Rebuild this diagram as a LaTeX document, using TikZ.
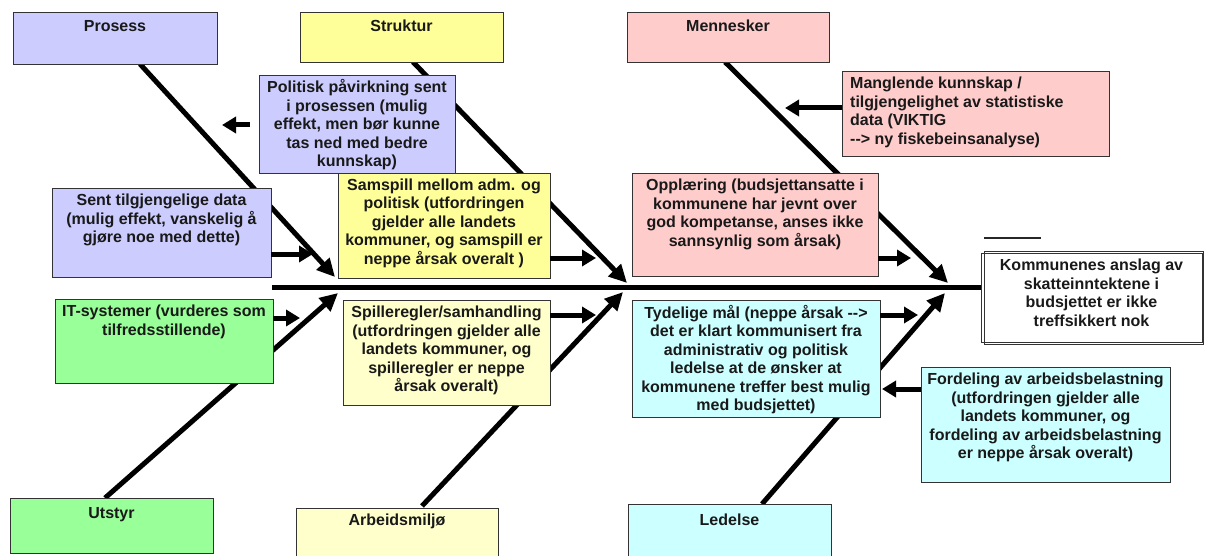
\documentclass[tikz,border=0pt]{standalone}
\usepackage{fontspec}
\setmainfont{Liberation Sans}
\usetikzlibrary{arrows.meta}
\definecolor{lav}{HTML}{CCCCFF}
\definecolor{yel}{HTML}{FFFF99}
\definecolor{pnk}{HTML}{FFCCCC}
\definecolor{grn}{HTML}{99FF99}
\definecolor{lyel}{HTML}{FFFFCC}
\definecolor{cyn}{HTML}{CCFFFF}
\newcommand\fl{\rule{0pt}{13pt}}
\begin{document}
\begin{tikzpicture}[x=1pt,y=-1pt,
  box/.style={draw=black!80, line width=0.9pt, anchor=north west, inner sep=0pt, outer sep=0pt},
  txt/.style={font=\fontsize{16}{18.5}\selectfont\bfseries, text=black!90, align=center, inner sep=0pt, anchor=north},
  bone/.style={line width=5pt, -{Triangle[length=18pt,width=17pt]}},
  spine/.style={line width=5pt},
  sarr/.style={line width=5pt, -{Triangle[length=14pt,width=16pt]}}]
\useasboundingbox (0,0) rectangle (1206,556);

% coordinates for bones
\coordinate (sP) at (140,64);  \coordinate (tP) at (335,277);
\coordinate (sS) at (413,62);  \coordinate (tS) at (627,283);
\coordinate (sM) at (725,62);  \coordinate (tM) at (948,283);
\coordinate (sU) at (105,498); \coordinate (tU) at (338,293);
\coordinate (sA) at (422,506); \coordinate (tA) at (623,292);
\coordinate (sL) at (762,504); \coordinate (tL) at (945,293);
\coordinate (spL) at (272,287); \coordinate (spR) at (982,287);

\draw[spine] (spL) -- (spR);
\draw[bone] (sP) -- (tP);
\draw[bone] (sS) -- (tS);
\draw[bone] (sM) -- (tM);
\draw[bone] (sU) -- (tU);
\draw[bone] (sA) -- (tA);
\draw[bone] (sL) -- (tL);

% category boxes
\node[box, fill=lav, minimum width=204pt, minimum height=52pt] (pros) at (13,12) {};
\node[box, fill=yel, minimum width=203pt, minimum height=50pt] (strk) at (300,12) {};
\node[box, fill=pnk, minimum width=202pt, minimum height=50pt] (menn) at (627,12) {};
\node[box, fill=grn, minimum width=203pt, minimum height=55pt] (utst) at (10,498) {};
\node[box, fill=lyel, minimum width=202pt, minimum height=52pt] (arbm) at (296,508) {};
\node[box, fill=cyn, minimum width=203pt, minimum height=56pt] (ledl) at (628,504) {};

\node[txt] (prosT) at ([yshift=-6pt]pros.north) {\fl Prosess};
\node[txt] (strkT) at ([yshift=-6pt]strk.north) {\fl Struktur};
\node[txt] (mennT) at ([yshift=-6pt]menn.north) {\fl Mennesker};
\node[txt] (utstT) at ([yshift=-7pt]utst.north) {\fl Utstyr};
\node[txt] (arbmT) at ([yshift=-4pt]arbm.north) {\fl Arbeidsmiljø};
\node[txt] (ledlT) at ([yshift=-8pt]ledl.north) {\fl Ledelse};

% cause boxes
\node[box, fill=lav, minimum width=196pt, minimum height=98pt] (poli) at (259,75) {};
\node[box, fill=pnk, minimum width=267pt, minimum height=85pt] (mang) at (842,71) {};
\node[box, fill=lav, minimum width=219pt, minimum height=89pt] (sent) at (52,188) {};
\node[box, fill=yel, minimum width=212pt, minimum height=105pt] (sams) at (338,173) {};
\node[box, fill=pnk, minimum width=246pt, minimum height=103pt] (oppl) at (632,173) {};
\node[box, fill=grn, minimum width=218pt, minimum height=84pt] (itsy) at (55,299) {};
\node[box, fill=lyel, minimum width=207pt, minimum height=105pt] (spil) at (343,300) {};
\node[box, fill=cyn, minimum width=248pt, minimum height=117pt] (tyde) at (632,300) {};
\node[box, fill=cyn, minimum width=249pt, minimum height=115pt] (ford) at (921,367) {};
% effect box: two slightly offset outlines
\fill[white] (981,251) rectangle (1205,344);
\node[box, minimum width=219pt, minimum height=93pt] (komm2) at (984,251) {};
\node[box, minimum width=221pt, minimum height=89pt] (komm) at (981,253) {};

\node[txt] (poliT) at ([yshift=-4.5pt]poli.north) {\fl Politisk påvirkning sent\\ i prosessen (mulig\\ effekt, men bør kunne\\ tas ned med bedre\\ kunnskap)};
\node[txt, anchor=north west, align=left] (mangT) at ([xshift=8pt,yshift=-4.5pt]mang.north west) {\fl Manglende kunnskap /\\ tilgjengelighet av statistiske\\ data (VIKTIG\\ -{}->~ny fiskebeinsanalyse)};
\node[txt] (sentT) at ([yshift=-4.5pt]sent.north) {\fl Sent tilgjengelige data\\ (mulig effekt, vanskelig å\\ gjøre noe med dette)};
\node[txt] (samsT) at ([yshift=-4pt]sams.north) {\fl Samspill mellom adm. og\\ politisk (utfordringen\\ gjelder alle landets\\ kommuner, og samspill er\\ neppe årsak overalt )};
\node[txt] (opplT) at ([yshift=-4.5pt]oppl.north) {\fl Opplæring (budsjettansatte i\\ kommunene har jevnt over\\ god kompetanse, anses ikke\\ sannsynlig som årsak)};
\node[txt] (itsyT) at ([yshift=-4.5pt]itsy.north) {\fl IT-systemer (vurderes som\\ tilfredsstillende)};
\node[txt] (spilT) at ([yshift=-4.5pt]spil.north) {\fl Spilleregler/samhandling\\ (utfordringen gjelder alle\\ landets kommuner, og\\ spilleregler er neppe\\ årsak overalt)};
\node[txt] (tydeT) at ([yshift=-5pt]tyde.north) {\fl Tydelige mål (neppe årsak -{}->\\ det er klart kommunisert fra\\ administrativ og politisk\\ ledelse at de ønsker at\\ kommunene treffer best mulig\\ med budsjettet)};
\node[txt] (fordT) at ([yshift=-4.5pt]ford.north) {\fl Fordeling av arbeidsbelastning\\ (utfordringen gjelder alle\\ landets kommuner, og\\ fordeling av arbeidsbelastning\\ er neppe årsak overalt)};
\node[txt] (kommT) at ([yshift=-4.5pt]komm.north) {\fl Kommunenes anslag av\\ skatteinntektene i\\ budsjettet er ikke\\ treffsikkert nok};

% short line above effect box
\coordinate (ln1) at (984,238); \coordinate (ln2) at (1041,238);
\draw[black!85, line width=1.3pt] (ln1) -- (ln2);

% small arrows
\coordinate (a1s) at (250,125); \coordinate (a1e) at (222,125);
\coordinate (a2s) at (842,108); \coordinate (a2e) at (785,108);
\coordinate (a3s) at (271,254); \coordinate (a3e) at (313,254);
\coordinate (a4s) at (550,258); \coordinate (a4e) at (596,258);
\coordinate (a5s) at (878,258); \coordinate (a5e) at (911,258);
\coordinate (a6s) at (273,318); \coordinate (a6e) at (300,318);
\coordinate (a7s) at (550,315); \coordinate (a7e) at (596,315);
\coordinate (a8s) at (880,315); \coordinate (a8e) at (918,315);
\coordinate (a9s) at (921,389); \coordinate (a9e) at (882,389);
\draw[sarr] (a1s) -- (a1e);
\draw[sarr] (a2s) -- (a2e);
\draw[sarr] (a3s) -- (a3e);
\draw[sarr] (a4s) -- (a4e);
\draw[sarr] (a5s) -- (a5e);
\draw[sarr] (a6s) -- (a6e);
\draw[sarr] (a7s) -- (a7e);
\draw[sarr] (a8s) -- (a8e);
\draw[sarr] (a9s) -- (a9e);
\end{tikzpicture}
\end{document}
